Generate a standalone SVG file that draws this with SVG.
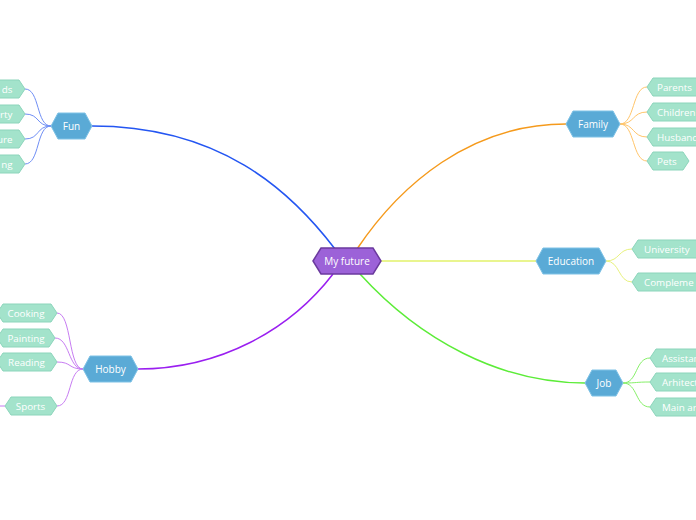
<svg xmlns="http://www.w3.org/2000/svg" width="696" height="520" viewBox="0 0 696 520">
<style>
.main{fill:#5aaad6;stroke:#7ec2e6;stroke-width:1}
.sub{fill:#a3e3cb;stroke:#8cd5bb;stroke-width:1}
.t{font-family:"Open Sans","Noto Sans",sans-serif;fill:#ffffff;font-size:10px}
.ts{font-family:"Open Sans","Noto Sans",sans-serif;fill:#ffffff;font-size:9.8px}
.c{fill:none}
</style>
<rect width="696" height="520" fill="#ffffff"/>
<g id="connectors">
<path class="c" d="M92,126 C220,126 290,190 335,249" stroke="#2456f2" stroke-width="1.5"/>
<path class="c" d="M357,249 C400,185 470,124 566,124" stroke="#f59a1c" stroke-width="1.5"/>
<path class="c" d="M381,261 L536,261" stroke="#e2f26a" stroke-width="1.5"/>
<path class="c" d="M360,274 C420,340 500,383 585,383" stroke="#5cec38" stroke-width="1.5"/>
<path class="c" d="M333,274 C290,330 220,369 138,369" stroke="#9a1ff0" stroke-width="1.5"/>
<g stroke="#6f8ef5" stroke-width="1">
<path class="c" d="M51,126 C36,126 40,89 25,89"/>
<path class="c" d="M51,126 C36,126 40,114 25,114"/>
<path class="c" d="M51,126 C36,126 40,139 25,139"/>
<path class="c" d="M51,126 C36,126 40,164 25,164"/>
</g>
<g stroke="#ffc56a" stroke-width="1">
<path class="c" d="M620,124 C635,124 632,87 647,87"/>
<path class="c" d="M620,124 C635,124 632,112 647,112"/>
<path class="c" d="M620,124 C635,124 632,137 647,137"/>
<path class="c" d="M620,124 C635,124 632,161 647,161"/>
</g>
<g stroke="#e8f27e" stroke-width="1">
<path class="c" d="M606,261 C620,261 618,249 632,249"/>
<path class="c" d="M606,261 C620,261 618,282 632,282"/>
</g>
<g stroke="#86f068" stroke-width="1">
<path class="c" d="M623,383 C638,383 635,358 650,358"/>
<path class="c" d="M623,383 C638,383 635,382 650,382"/>
<path class="c" d="M623,383 C638,383 635,407 650,407"/>
</g>
<g stroke="#c77cf2" stroke-width="1">
<path class="c" d="M83,369 C68,369 72,313 57,313"/>
<path class="c" d="M83,369 C68,369 70,338 55,338"/>
<path class="c" d="M83,369 C68,369 72,362 57,362"/>
<path class="c" d="M83,369 C68,369 72,406 57,406"/>
<path class="c" d="M0,406 L5,406"/>
</g>
</g>
<g id="central">
<polygon points="313,261 321,248 373,248 381,261 373,274 321,274" fill="#9c62d8" stroke="#6b3a9e" stroke-width="1.5"/>
<text class="t" x="347" y="264.5" text-anchor="middle">My future</text>
</g>
<g id="fun">
<polygon class="main" points="51,126 58,113 85,113 92,126 85,139 58,139"/>
<text class="t" x="71.5" y="129.5" text-anchor="middle">Fun</text>
</g>
<g id="fun-1"><polygon class="sub" points="-40,80 19,80 25,89 19,98 -40,98"/><text class="ts" x="12.5" y="92.5" text-anchor="end">ds</text></g>
<g id="fun-2"><polygon class="sub" points="-40,105 19,105 25,114 19,123 -40,123"/><text class="ts" x="12.5" y="117.5" text-anchor="end">rty</text></g>
<g id="fun-3"><polygon class="sub" points="-40,130 19,130 25,139 19,148 -40,148"/><text class="ts" x="12.5" y="142.5" text-anchor="end">ure</text></g>
<g id="fun-4"><polygon class="sub" points="-40,155 19,155 25,164 19,173 -40,173"/><text class="ts" x="12.5" y="167.5" text-anchor="end">ng</text></g>
<g id="family">
<polygon class="main" points="566,124 573,111 613,111 620,124 613,137 573,137"/>
<text class="t" x="593" y="127.5" text-anchor="middle">Family</text>
</g>
<g id="parents"><polygon class="sub" points="647,87 653,78 710,78 710,96 653,96"/><text class="ts" x="657" y="90.5">Parents</text></g>
<g id="children"><polygon class="sub" points="647,112 653,103 710,103 710,121 653,121"/><text class="ts" x="657" y="115.5">Children</text></g>
<g id="husband"><polygon class="sub" points="647,137 653,128 710,128 710,146 653,146"/><text class="ts" x="657" y="140.5">Husband</text></g>
<g id="pets"><polygon class="sub" points="647,161 653,152 683,152 689,161 683,170 653,170"/><text class="ts" x="657" y="164.5">Pets</text></g>
<g id="education">
<polygon class="main" points="536,261 543,248 599,248 606,261 599,274 543,274"/>
<text class="t" x="571" y="264.5" text-anchor="middle">Education</text>
</g>
<g id="university"><polygon class="sub" points="632,249 638,240 710,240 710,258 638,258"/><text class="ts" x="644" y="252.5">University</text></g>
<g id="compleme"><polygon class="sub" points="632,282 638,273 710,273 710,291 638,291"/><text class="ts" x="644" y="285.5">Compleme</text></g>
<g id="job">
<polygon class="main" points="585,383 592,370 616,370 623,383 616,396 592,396"/>
<text class="t" x="604" y="386.5" text-anchor="middle">Job</text>
</g>
<g id="assistan"><polygon class="sub" points="650,358 656,349 710,349 710,367 656,367"/><text class="ts" x="662" y="361.5">Assistan</text></g>
<g id="arhitect"><polygon class="sub" points="650,382 656,373 710,373 710,391 656,391"/><text class="ts" x="662" y="385.5">Arhitect</text></g>
<g id="mainar"><polygon class="sub" points="650,407 656,398 710,398 710,416 656,416"/><text class="ts" x="662" y="410.5">Main ar</text></g>
<g id="hobby">
<polygon class="main" points="83,369 90,356 131,356 138,369 131,382 90,382"/>
<text class="t" x="110.5" y="372.5" text-anchor="middle">Hobby</text>
</g>
<g id="cooking"><polygon class="sub" points="-3,313 3,304 51,304 57,313 51,322 3,322"/><text class="ts" x="26" y="316.5" text-anchor="middle">Cooking</text></g>
<g id="painting"><polygon class="sub" points="-3,338 3,329 49,329 55,338 49,347 3,347"/><text class="ts" x="26" y="341.5" text-anchor="middle">Painting</text></g>
<g id="reading"><polygon class="sub" points="-3,362 3,353 51,353 57,362 51,371 3,371"/><text class="ts" x="26.5" y="365.5" text-anchor="middle">Reading</text></g>
<g id="sports"><polygon class="sub" points="5,406 11,397 51,397 57,406 51,415 11,415"/><text class="ts" x="30.5" y="409.5" text-anchor="middle">Sports</text></g>
</svg>
